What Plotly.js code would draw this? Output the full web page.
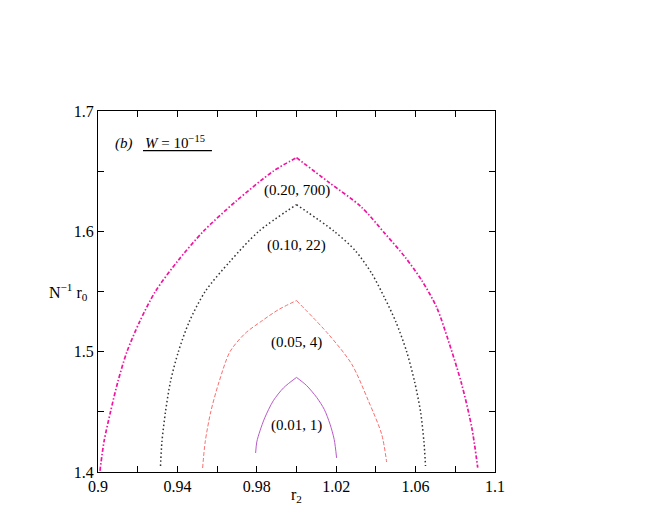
<!DOCTYPE html>
<html>
<head>
<meta charset="utf-8">
<script src="https://cdn.plot.ly/plotly-3.0.1.min.js"></script>
<style>body{margin:0;background:#fff}#chart{width:651px;height:513px}</style>
</head>
<body>
<div id="chart"></div>
<script>
// Curve data: r2 (x) and N^-1 r0 (y), left foot -> peak -> right foot
const magentaX = [0.9010, 0.9030, 0.9063, 0.9100, 0.9146, 0.9210, 0.9289, 0.9400, 0.9531, 0.9695, 0.9883, 1.0000, 1.0160, 1.0325, 1.0446, 1.0547, 1.0631, 1.0706, 1.0765, 1.0832, 1.0883, 1.0913];
const magentaY = [1.4010, 1.4250, 1.4500, 1.4750, 1.5000, 1.5250, 1.5500, 1.5750, 1.6000, 1.6250, 1.6500, 1.6612, 1.6411, 1.6205, 1.5981, 1.5786, 1.5592, 1.5369, 1.5092, 1.4731, 1.4369, 1.4036];
const blackX = [0.9315, 0.9322, 0.9340, 0.9365, 0.9405, 0.9460, 0.9540, 0.9665, 0.9810, 1.0000, 1.0190, 1.0295, 1.0379, 1.0443, 1.0500, 1.0555, 1.0595, 1.0625, 1.0642, 1.0650];
const blackY = [1.4050, 1.4250, 1.4500, 1.4750, 1.5000, 1.5250, 1.5500, 1.5750, 1.6000, 1.6222, 1.6000, 1.5842, 1.5650, 1.5450, 1.5250, 1.5000, 1.4750, 1.4500, 1.4250, 1.4050];
const redX = [0.9527, 0.9540, 0.9568, 0.9610, 0.9665, 0.9740, 0.9825, 0.9910, 1.0000, 1.0160, 1.0278, 1.0362, 1.0429, 1.0454];
const redY = [1.4033, 1.4250, 1.4500, 1.4750, 1.5000, 1.5150, 1.5255, 1.5350, 1.5425, 1.5147, 1.4897, 1.4592, 1.4314, 1.4083];
const purpleX = [0.9794, 0.9800, 0.9816, 0.9840, 0.9883, 0.9935, 1.0000, 1.0050, 1.0102, 1.0140, 1.0169, 1.0190, 1.0202];
const purpleY = [1.4158, 1.4250, 1.4342, 1.4450, 1.4592, 1.4700, 1.4786, 1.4720, 1.4619, 1.4520, 1.4397, 1.4270, 1.4117];

const curveLabels = ['(0.20, 700)', '(0.10, 22)', '(0.05, 4)', '(0.01, 1)'];
const labelX = [1.0, 1.0, 1.0, 1.0];
const labelY = [1.634, 1.5883, 1.5078, 1.4383];

const xTickVals = [0.90, 0.94, 0.98, 1.02, 1.06, 1.10];
const xTickText = ['0.9', '0.94', '0.98', '1.02', '1.06', '1.1'];
const yTickVals = [1.4, 1.5, 1.6, 1.7];
const yTickText = ['1.4', '1.5', '1.6', '1.7'];

const serif = 'Liberation Serif, Times New Roman, serif';

function branches(xs, ys, line) {
  let pk = 0;
  ys.forEach((v, i) => { if (v > ys[pk]) pk = i; });
  const mk = (a, b) => ({x: xs.slice(a, b), y: ys.slice(a, b), mode: 'lines',
    line: Object.assign({shape: 'spline', smoothing: 0.8}, line), hoverinfo: 'skip', showlegend: false});
  return [mk(0, pk + 1), mk(pk, xs.length)];
}

const traces = [].concat(
  branches(magentaX, magentaY, {color: 'rgb(240,20,160)', width: 1.7, dash: '4px,2px,1.5px,2px'}),
  branches(blackX, blackY, {color: '#333333', width: 1.5, dash: '1.5px,2.5px'}),
  branches(redX, redY, {color: 'rgb(250,110,110)', width: 1, dash: '4px,2px'}),
  branches(purpleX, purpleY, {color: 'rgb(185,90,200)', width: 1})
);

const annotations = curveLabels.map((t, i) => ({
  x: labelX[i], y: labelY[i], xref: 'x', yref: 'y', text: t, showarrow: false,
  font: {family: serif, size: 15, color: '#000'}
}));
annotations.push(
  {x: 0, y: 1.55, xref: 'paper', yref: 'y', xanchor: 'right', xshift: -8, showarrow: false,
   text: 'N<sup>−1</sup> r<sub>0</sub>', font: {family: serif, size: 16, color: '#000'}},
  {x: 1.0, y: 0, xref: 'x', yref: 'paper', yanchor: 'top', yshift: -12, showarrow: false,
   text: 'r<sub>2</sub>', font: {family: serif, size: 16, color: '#000'}},
  {x: 0.038, y: 0.91, xref: 'paper', yref: 'paper', xanchor: 'left', yanchor: 'middle', showarrow: false,
   text: '<i>(b)</i>', font: {family: serif, size: 15, color: '#000'}},
  {x: 0.113, y: 0.915, xref: 'paper', yref: 'paper', xanchor: 'left', yanchor: 'middle', showarrow: false,
   text: '<i>W</i> = 10<sup>−15</sup>', font: {family: serif, size: 15, color: '#000'}}
);

const axisCommon = {ticks: 'inside', ticklen: 6, tickcolor: '#000', showline: true, linecolor: '#000',
  linewidth: 1, mirror: 'ticks', showgrid: false, zeroline: false, tickfont: {family: serif, size: 16}};

const layout = {
  width: 651, height: 513,
  margin: {l: 98, r: 156, t: 111, b: 41},
  paper_bgcolor: '#fff', plot_bgcolor: '#fff',
  font: {family: serif, size: 16, color: '#000'},
  xaxis: Object.assign({range: [0.9, 1.1], tickmode: 'array', tickvals: xTickVals, ticktext: xTickText,
    minor: {dtick: 0.02, tick0: 0.9, ticks: 'inside', ticklen: 6, tickcolor: '#000', showgrid: false}}, axisCommon),
  yaxis: Object.assign({range: [1.4, 1.7], tickmode: 'array', tickvals: yTickVals, ticktext: yTickText,
    minor: {dtick: 0.05, tick0: 1.4, ticks: 'inside', ticklen: 6, tickcolor: '#000', showgrid: false}}, axisCommon),
  shapes: [{type: 'line', xref: 'paper', yref: 'paper', x0: 0.1134, x1: 0.287, y0: 0.890, y1: 0.890,
            line: {color: '#000', width: 1.2}}],
  annotations: annotations
};

Plotly.newPlot('chart', traces, layout, {staticPlot: true, displayModeBar: false});
</script>
</body>
</html>
